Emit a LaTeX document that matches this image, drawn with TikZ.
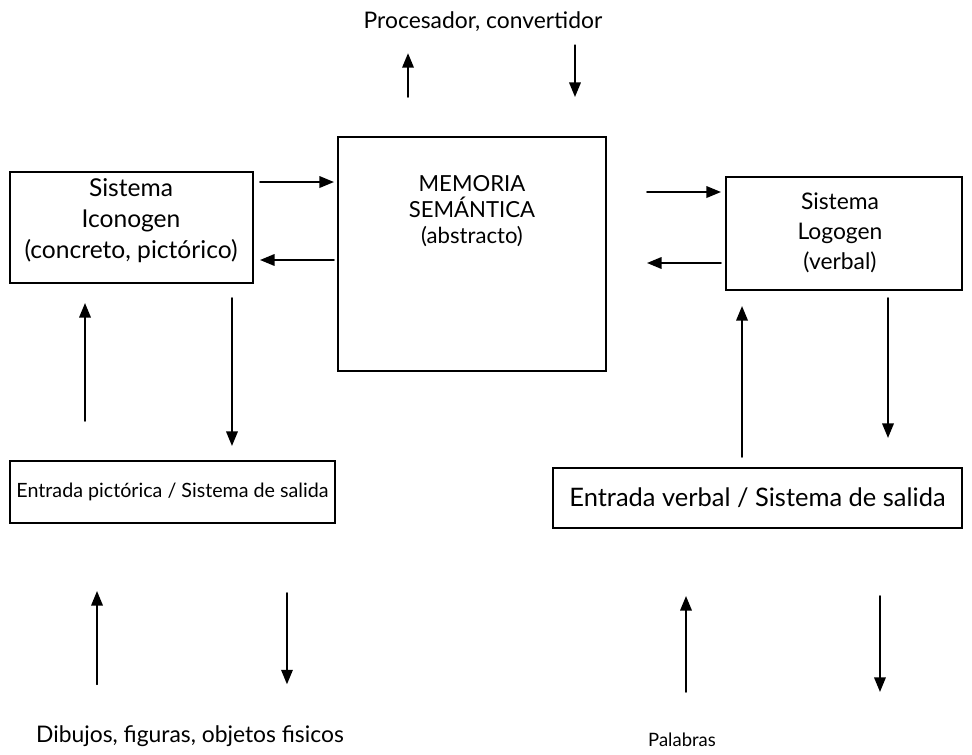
\documentclass[tikz,border=0pt]{standalone}
\usepackage{fontspec}
\setmainfont{Lato}
\usetikzlibrary{arrows.meta}

\begin{document}
\begin{tikzpicture}[x=0.02cm,y=-0.02cm,>={Triangle[length=2.9mm,width=2.3mm]},font=\fontsize{13}{16}\selectfont,line cap=round]
\tikzset{
  box/.style={draw,line width=1.2pt,inner sep=0pt},
  flecha/.style={->,line width=1pt},
}
\useasboundingbox (0,0) rectangle (972,754);
% cajas
\node[box,minimum width=4.86cm,minimum height=2.22cm] (icon) at (131.5,227.5) {};
\node[align=center,font=\fontsize{14}{17.6}\selectfont] (icontxt) at (131,221) {Sistema\\Iconogen\\(concreto, pictórico)};
\node[box,minimum width=5.36cm,minimum height=4.68cm] (mem) at (472,254) {};
\node[align=center,font=\fontsize{12.6}{14.7}\selectfont] (memtxt) at (472,211) {MEMORIA\\SEMÁNTICA\\(abstracto)};
\node[box,minimum width=4.72cm,minimum height=2.26cm] (logo) at (844,233.5) {};
\node[align=center,font=\fontsize{13}{17}\selectfont] (logotxt) at (840,233) {Sistema\\Logogen\\(verbal)};
\node[box,minimum width=6.5cm,minimum height=1.24cm,font=\fontsize{11.2}{13}\selectfont] (entpic) at (172.5,492) {Entrada pictórica / Sistema de salida};
\node[box,minimum width=8.18cm,minimum height=1.2cm,font=\fontsize{14.5}{17}\selectfont] (entverb) at (757.5,498) {Entrada verbal / Sistema de salida};
% textos sueltos
\node (proc) at (483,22) {Procesador, convertidor};
\node (dib) at (190,736) {Dibujos, figuras, objetos fisicos};
\node[font=\fontsize{10.5}{13}\selectfont] (pal) at (682,740) {Palabras};
% flechas de arriba
\draw[flecha,shorten <=0.78cm,shorten >=0.3cm] ([xshift=-1.28cm]mem.north) -- ([xshift=-1.28cm]mem.north |- proc.south);
\draw[flecha,shorten <=0.14cm,shorten >=0.78cm] ([xshift=2.06cm]mem.north |- proc.south) -- ([xshift=2.06cm]mem.north);
% iconogen <-> memoria
\draw[flecha,shorten <=0.12cm,shorten >=0.06cm] ([yshift=0.91cm]icon.east) -- ([yshift=0.91cm]icon.east -| mem.west);
\draw[flecha,shorten <=0.06cm,shorten >=0.12cm] ([yshift=-0.65cm]icon.east -| mem.west) -- ([yshift=-0.65cm]icon.east);
% memoria <-> logogen
\draw[flecha,shorten <=0.8cm,shorten >=0.08cm] ([yshift=0.83cm]logo.west -| mem.east) -- ([yshift=0.83cm]logo.west);
\draw[flecha,shorten <=0.08cm,shorten >=0.8cm] ([yshift=-0.59cm]logo.west) -- ([yshift=-0.59cm]logo.west -| mem.east);
% iconogen <-> entrada pictorica
\draw[flecha,shorten <=0.78cm,shorten >=0.38cm] ([xshift=-0.93cm]icon.south |- entpic.north) -- ([xshift=-0.93cm]icon.south);
\draw[flecha,shorten <=0.28cm,shorten >=0.28cm] ([xshift=2.01cm]icon.south) -- ([xshift=2.01cm]icon.south |- entpic.north);
% logogen <-> entrada verbal
\draw[flecha,shorten <=0.2cm,shorten >=0.3cm] ([xshift=-2.04cm]logo.south |- entverb.north) -- ([xshift=-2.04cm]logo.south);
\draw[flecha,shorten <=0.14cm,shorten >=0.58cm] ([xshift=0.88cm]logo.south) -- ([xshift=0.88cm]logo.south |- entverb.north);
% flechas de abajo
\draw[flecha,shorten <=0.7cm,shorten >=1.34cm] ([xshift=-1.86cm]dib.north) -- ([xshift=-1.86cm]dib.north |- entpic.south);
\draw[flecha,shorten <=1.38cm,shorten >=0.7cm] ([xshift=1.94cm]dib.north |- entpic.south) -- ([xshift=1.94cm]dib.north);
\draw[flecha,shorten <=0.7cm,shorten >=1.34cm] ([xshift=0.08cm]pal.north) -- ([xshift=0.08cm]pal.north |- entverb.south);
\draw[flecha,shorten <=1.34cm,shorten >=0.7cm] ([xshift=3.96cm]pal.north |- entverb.south) -- ([xshift=3.96cm]pal.north);
\end{tikzpicture}
\end{document}
